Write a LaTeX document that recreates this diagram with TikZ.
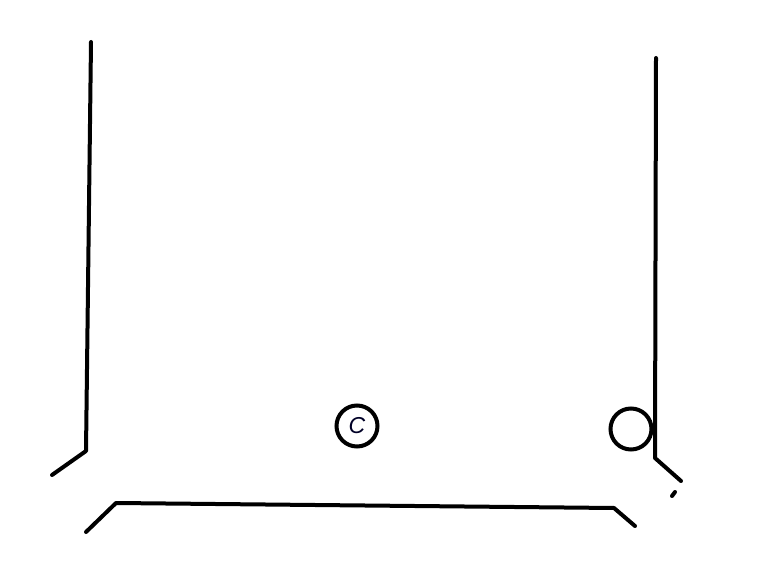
\documentclass[tikz,border=0pt]{standalone}
\usepackage{fontspec}
\setmainfont{Liberation Sans}
\begin{document}
\begin{tikzpicture}[x=1pt,y=-1pt,
  stroke/.style={line width=4pt,line cap=round,line join=round,black},
  ring/.style={circle,draw=black,line width=4pt,minimum size=41pt,inner sep=0pt}]
\useasboundingbox (0,0) rectangle (774,569);
% left wall
\coordinate (lt) at (91,42);
\coordinate (lb) at (86,451);
\coordinate (lf) at (52,475);
\draw[stroke] (lt) -- (lb) -- (lf);
% right wall
\coordinate (rt) at (656,58);
\coordinate (rb) at (655,458);
\coordinate (rf) at (681,481);
\draw[stroke] (rt) -- (rb) -- (rf);
% dot
\coordinate (d1) at (672,496);
\coordinate (d2) at (675,492);
\draw[stroke] (d1) -- (d2);
% bottom
\coordinate (b1) at (86,532);
\coordinate (b2) at (116,503);
\coordinate (b3) at (614,508);
\coordinate (b4) at (635,526);
\draw[stroke] (b1) -- (b2) -- (b3) -- (b4);
% circles
\node[ring,text=black!85!blue] (c) at (357,426) {\fontsize{23}{23}\selectfont\itshape C};
\node[ring] (r) at (631,429) {};
\end{tikzpicture}
\end{document}
